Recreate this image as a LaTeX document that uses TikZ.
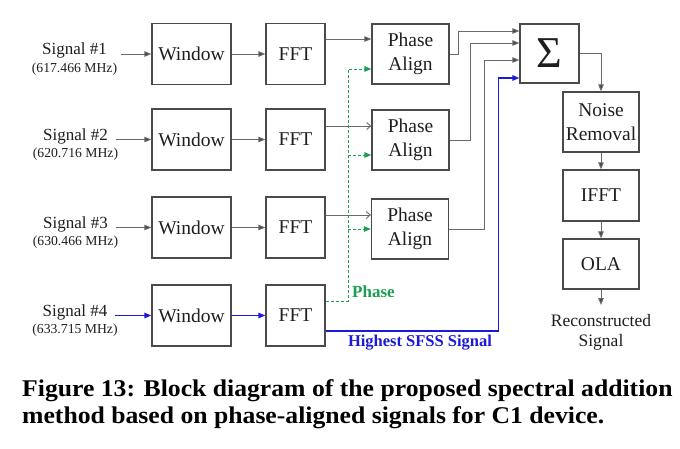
\documentclass[tikz,border=0pt]{standalone}
\usepackage{fontspec}
\usepackage{graphicx}
\setmainfont{Liberation Serif}
\usetikzlibrary{arrows.meta}
\definecolor{boxc}{HTML}{4A4A4A}
\definecolor{linec}{HTML}{6A6A6A}
\definecolor{txtc}{HTML}{1E1E1E}
\definecolor{grn}{HTML}{1E9E52}
\definecolor{blu}{HTML}{1A1AD8}
\begin{document}
\begin{tikzpicture}[x=1pt,y=-1pt,
  blk/.style={draw=boxc,line width=1.3pt,inner sep=0pt,align=center,text=txtc,
    font=\fontsize{19.5}{24}\selectfont},
  win/.style={blk,minimum width=79pt,minimum height=61pt},
  fftb/.style={blk,minimum width=59pt,minimum height=61pt},
  pab/.style={blk,minimum width=77pt,minimum height=60pt},
  rb/.style={blk,minimum width=76pt},
  con/.style={draw=linec,line width=0.9pt,-{Triangle[length=7pt,width=5.5pt,fill=boxc]}},
  cono/.style={draw=linec,line width=0.9pt,-{Straight Barb[length=4pt,width=7pt]}},
  gcon/.style={draw=grn,line width=1pt,dash pattern=on 3pt off 2pt,-{Triangle[length=7pt,width=5.5pt]}},
  bcon/.style={draw=blu,line width=1.3pt,-{Triangle[length=7pt,width=5.5pt]}},
  sigl/.style={anchor=base,text=txtc,inner sep=0pt,font=\fontsize{17}{20}\selectfont},
  freql/.style={anchor=base,text=txtc,inner sep=0pt,font=\fontsize{13.7}{16}\selectfont},
]
\useasboundingbox (0,0) rectangle (680,448);

% signal labels
\node[sigl] (s1) at (74.5,54) {Signal \#1};
\node[freql] (f1) at (74.5,72) {(617.466 MHz)};
\node[sigl] (s2) at (75.5,140) {Signal \#2};
\node[freql] (f2) at (75.5,157.5) {(620.716 MHz)};
\node[sigl] (s3) at (75.5,228) {Signal \#3};
\node[freql] (f3) at (75.5,245.5) {(630.466 MHz)};
\node[sigl] (s4) at (75,316) {Signal \#4};
\node[freql] (f4) at (75,333.5) {(633.715 MHz)};

% windows
\node[win] (w1) at (191.5,54) {Window};
\node[win] (w2) at (191.5,139.5) {Window};
\node[win] (w3) at (191.5,227.5) {Window};
\node[win] (w4) at (191.5,315.5) {Window};
% ffts
\node[fftb] (t1) at (295.5,54) {FFT};
\node[fftb] (t2) at (295.5,139.5) {FFT};
\node[fftb] (t3) at (295.5,227.5) {FFT};
\node[fftb] (t4) at (295.5,315.5) {FFT};
% phase align
\node[pab] (p1) at (410.5,54) {Phase\\Align};
\node[pab] (p2) at (410.5,140) {Phase\\Align};
\node[pab] (p3) at (410,229) {Phase\\Align};
% sum and chain
\node[blk,minimum width=59pt,minimum height=59pt,font=\fontsize{44}{44}\selectfont] (sg) at (549.5,53.5) {Σ};
\node[rb,minimum height=60pt] (nr) at (601,122) {Noise\\Removal};
\node[rb,minimum height=51pt] (if) at (601,195.5) {IFFT};
\node[rb,minimum height=50pt] (ola) at (601,264) {OLA};

% inputs
\coordinate (a1) at (121,54);
\coordinate (a2) at (116,139.5);
\coordinate (a3) at (116,227.5);
\coordinate (a4) at (115,315.5);
\draw[con] (a1) -- (w1);
\draw[con] (a2) -- (w2);
\draw[con] (a3) -- (w3);
\draw[bcon] (a4) -- (w4);
\draw[con] (w1) -- (t1);
\draw[con] (w2) -- (t2);
\draw[con] (w3) -- (t3);
\draw[bcon] (w4) -- (t4);

% fft -> phase align
\coordinate (o1) at ([yshift=15pt]t1.east);
\coordinate (o2) at ([yshift=13.5pt]t2.east);
\coordinate (o3) at ([yshift=12.5pt]t3.east);
\draw[con] (o1) -- (o1 -| p1.west);
\draw[cono] (o2) -- (o2 -| p2.west);
\draw[cono] (o3) -- (o3 -| p3.west);

% phase (green)
\coordinate (g0) at ([yshift=14.5pt]t4.east);
\coordinate (gx) at (348,0);
\coordinate (g1) at ([yshift=-15pt]p1.west);
\coordinate (g2) at ([yshift=-15pt]p2.west);
\coordinate (g3) at (p3.west);
\draw[gcon] (g0) -- (g0 -| gx) -- (gx |- g1) -- (g1);
\draw[gcon] (gx |- g2) -- (g2);
\draw[gcon] (gx |- g3) -- (g3);
\node[anchor=base west,inner sep=0pt,text=grn,font=\bfseries\fontsize{17}{20}\selectfont] (phl) at (352,297) {Phase};

% highest SFSS (blue)
\coordinate (b0) at ([yshift=-15.5pt]t4.east);
\draw[bcon] (b0) -- ++(173,0) |- ([yshift=-24.5pt]sg.west);
\node[anchor=base,inner sep=0pt,text=blu,font=\bfseries\fontsize{16.5}{20}\selectfont] (hsl) at (420,346) {Highest SFSS Signal};

% phase align -> sum
\draw[con] (p1.east) -- ++(9,0) |- ([yshift=22.5pt]sg.west);
\draw[con] (p2.east) -- ++(21,0) |- ([yshift=10.5pt]sg.west);
\draw[con] (p3.east) -- ++(35.5,0) |- ([yshift=-6.5pt]sg.west);

% chain
\draw[con] (sg.east) -| (nr.north);
\draw[con] (nr) -- (if);
\draw[con] (if) -- (ola);
\coordinate (outp) at (601,305);
\draw[con] (ola) -- (outp);
\node[sigl,font=\fontsize{17.5}{20}\selectfont] (rc1) at (601,326) {Reconstructed};
\node[sigl,font=\fontsize{17.5}{20}\selectfont] (rc2) at (601,346) {Signal};

% caption
\node[anchor=base west,inner sep=0pt,font=\bfseries\fontsize{24}{28}\selectfont] (cap1) at (22,396)
  {\scalebox{1.07}[1]{Figure 13: Block diagram of the proposed spectral addition}};
\node[anchor=base west,inner sep=0pt,font=\bfseries\fontsize{24}{28}\selectfont] (cap2) at (22,423)
  {\scalebox{1.07}[1]{method based on phase-aligned signals for C1 device.}};
\end{tikzpicture}
\end{document}
